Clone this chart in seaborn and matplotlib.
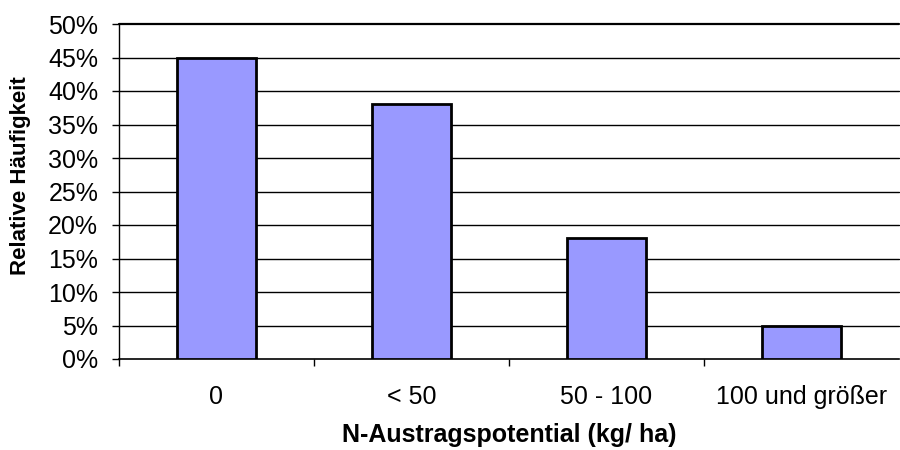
import matplotlib
matplotlib.use("Agg")
import matplotlib.pyplot as plt
import seaborn as sns
import pandas as pd
from matplotlib.ticker import FixedLocator, PercentFormatter

categories = ["0", "< 50", "50 - 100", "100 und größer"]
shares = [45, 38, 18, 5]
y_ticks = [0, 5, 10, 15, 20, 25, 30, 35, 40, 45, 50]

sns.set_theme(style="white")
plt.rcParams["font.family"] = ["Liberation Sans", "DejaVu Sans"]

df = pd.DataFrame({"Kategorie": categories, "Anteil": shares})

fig = plt.figure(figsize=(9, 4.5), dpi=100)
ax = fig.add_axes([119 / 900, 1 - 359 / 450, 780 / 900, 335 / 450])

sns.barplot(data=df, x="Kategorie", y="Anteil", ax=ax, width=0.405,
            color="#9999FF", saturation=1, edgecolor="black", linewidth=2,
            zorder=3)

ax.set_xlim(-0.5, 3.5)
ax.set_ylim(0, 50)
ax.set_yticks(y_ticks)
ax.yaxis.set_major_formatter(PercentFormatter(decimals=0))
for y in y_ticks[1:]:
    lw = 1.6 if y == y_ticks[-1] else 1
    ax.axhline(y, color="black", linewidth=lw, zorder=1, clip_on=False)

sns.despine(ax=ax, top=True, right=True)
ax.spines["left"].set_color("black")
ax.spines["bottom"].set_color("black")
ax.spines["left"].set_linewidth(1)
ax.spines["bottom"].set_linewidth(1.2)

ax.tick_params(axis="y", which="major", length=5, width=1, color="black",
               direction="out", left=True, pad=10, labelsize=18, labelcolor="black")
ax.tick_params(axis="x", which="major", length=0, pad=19, labelsize=18,
               labelcolor="black")
ax.xaxis.set_minor_locator(FixedLocator([-0.5, 0.5, 1.5, 2.5]))
ax.tick_params(axis="x", which="minor", length=5, width=1, color="black",
               direction="out", bottom=True)

ax.set_xlabel("N-Austragspotential (kg/ ha)", fontsize=18, fontweight="bold",
              labelpad=10, color="black")
ax.set_ylabel("Relative Häufigkeit", fontsize=16, fontweight="bold",
              color="black")
ax.yaxis.set_label_coords(-0.113, 0.546)

fig.savefig("out.png", dpi=100, facecolor="white")
